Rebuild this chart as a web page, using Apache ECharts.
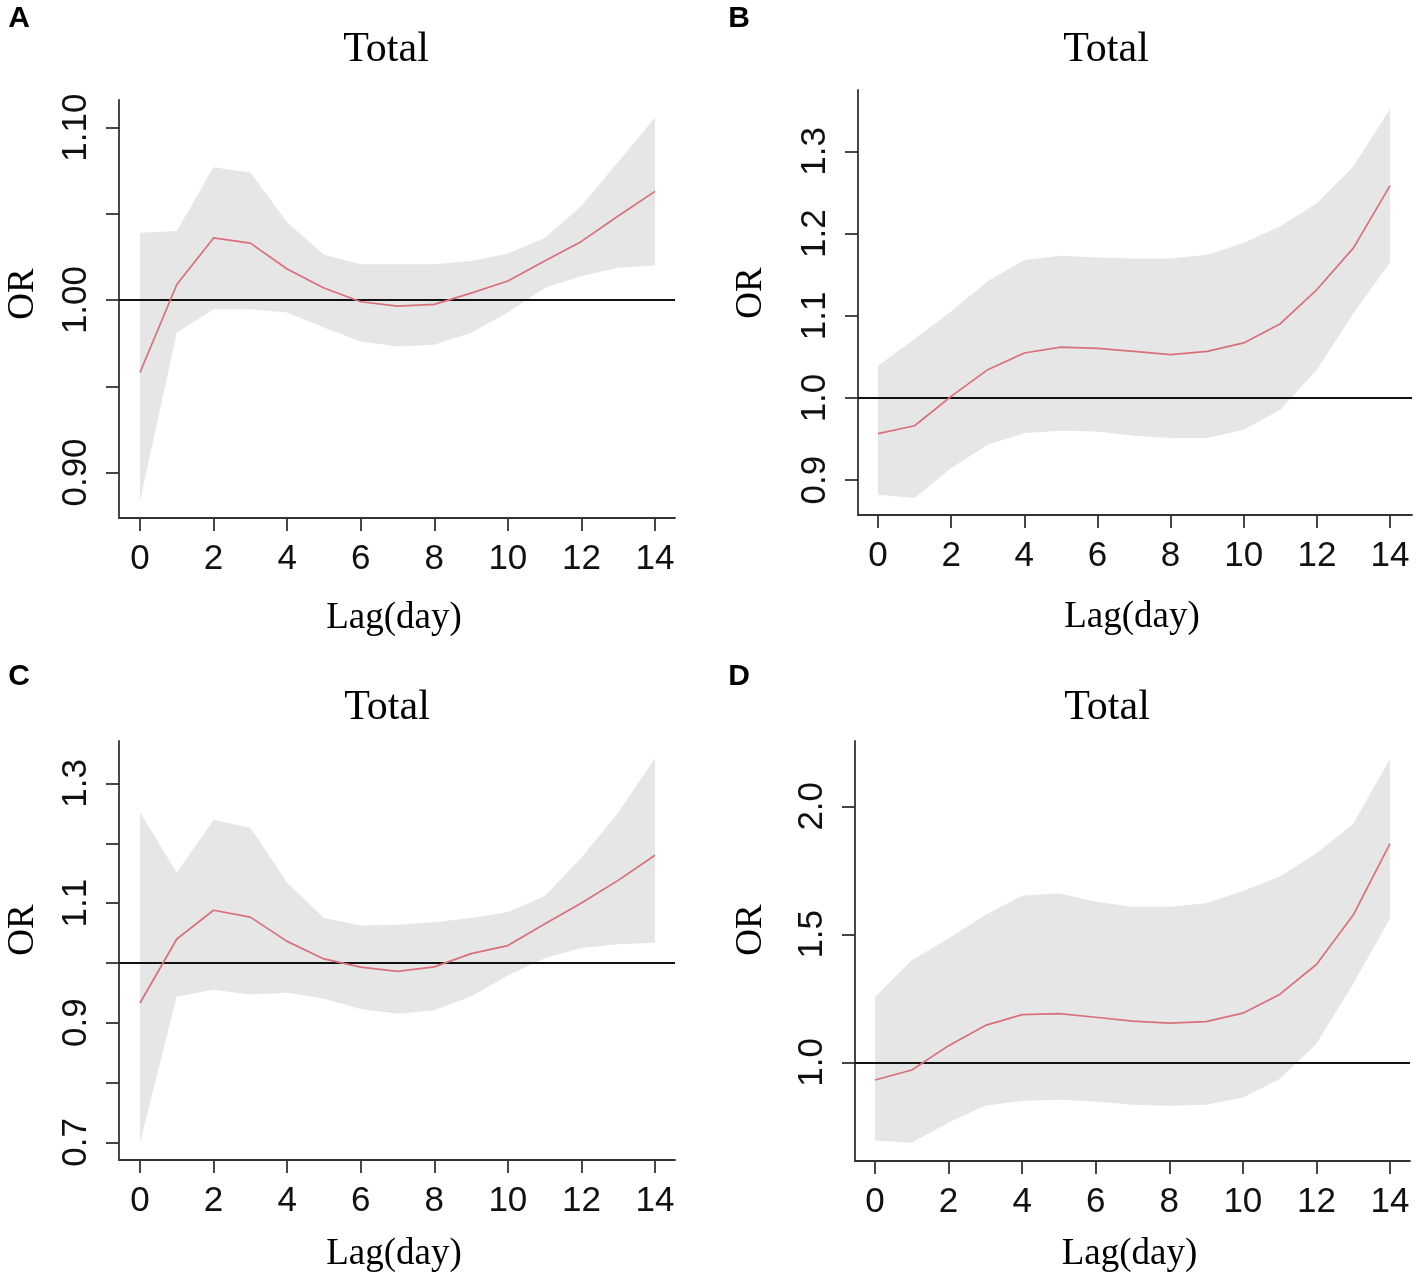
<!DOCTYPE html>
<html>
<head>
<meta charset="utf-8">
<script src="https://cdn.jsdelivr.net/npm/echarts@6/dist/echarts.min.js"></script>
<style>
html,body{margin:0;padding:0;background:#fff;}
#chart{width:1419px;height:1276px;}
</style>
</head>
<body>
<div id="chart"></div>
<script>
// ---- Data ----
var lags = [0,1,2,3,4,5,6,7,8,9,10,11,12,13,14];
var xTicks = [0,2,4,6,8,10,12,14];

// Panel A
var aOR = [0.958,1.009,1.036,1.033,1.018,1.007,0.999,0.9965,0.9975,1.004,1.011,1.0226,1.034,1.0487,1.063];
var aHigh = [1.039,1.040,1.077,1.074,1.045,1.0262,1.0207,1.0207,1.0207,1.0226,1.027,1.036,1.0545,1.080,1.1057];
var aLow = [0.8835,0.981,0.9946,0.9946,0.9927,0.984,0.976,0.973,0.974,0.981,0.9927,1.007,1.014,1.0187,1.020];
var aYTicks = [0.90,0.95,1.00,1.05,1.10];
var aYLabels = [0.90,1.00,1.10];

// Panel B
var bOR = [0.9566,0.9663,1.002,1.0345,1.0548,1.062,1.0604,1.0568,1.0527,1.0568,1.067,1.0905,1.132,1.1826,1.2584];
var bHigh = [1.0394,1.0718,1.1055,1.142,1.168,1.173,1.171,1.1696,1.1696,1.1744,1.1886,1.209,1.237,1.282,1.3517];
var bLow = [0.8824,0.8783,0.9148,0.9432,0.9574,0.9602,0.9594,0.9542,0.9513,0.9513,0.9615,0.9858,1.0345,1.1034,1.165];
var bYTicks = [0.9,1.0,1.1,1.2,1.3];
var bYLabels = [0.9,1.0,1.1,1.2,1.3];

// Panel C
var cOR = [0.933,1.040,1.088,1.0765,1.036,1.0067,0.993,0.986,0.9933,1.0156,1.029,1.065,1.100,1.138,1.180];
var cHigh = [1.252,1.1507,1.239,1.226,1.134,1.075,1.0625,1.064,1.068,1.075,1.085,1.1116,1.176,1.251,1.3416];
var cLow = [0.6997,0.944,0.955,0.947,0.950,0.940,0.923,0.915,0.921,0.944,0.979,1.008,1.025,1.031,1.0335];
var cYTicks = [0.7,0.8,0.9,1.0,1.1,1.2,1.3];
var cYLabels = [0.7,0.9,1.1,1.3];

// Panel D
var dOR = [0.931,0.970,1.065,1.144,1.186,1.190,1.176,1.161,1.153,1.159,1.192,1.265,1.382,1.575,1.854];
var dHigh = [1.255,1.399,1.484,1.575,1.651,1.660,1.627,1.608,1.608,1.621,1.669,1.725,1.817,1.931,2.186];
var dLow = [0.695,0.686,0.765,0.830,0.850,0.854,0.847,0.834,0.830,0.834,0.863,0.935,1.072,1.307,1.562];
var dYTicks = [1.0,1.5,2.0];
var dYLabels = [1.0,1.5,2.0];

var panelLetters = ['A','B','C','D'];
var panelTitle = 'Total';
var xName = 'Lag(day)';
var yName = 'OR';
var refValue = 1.0;

// ---- Layout (pixels) ----
var panels = [
  {or:aOR, hi:aHigh, lo:aLow, yt:aYTicks, yl:aYLabels, dec:2,
   grid:{left:119, top:100, width:556, height:418}, xr:[-0.571,14.544], yr:[0.8736,1.116],
   title:[381,48], orPos:[23,294], letter:[19,19], nameGap:82},
  {or:bOR, hi:bHigh, lo:bLow, yt:bYTicks, yl:bYLabels, dec:1,
   grid:{left:858, top:90, width:554, height:425}, xr:[-0.547,14.60], yr:[0.8577,1.3747],
   title:[1101,48], orPos:[751,293], letter:[739,19], nameGap:84},
  {or:cOR, hi:cHigh, lo:cLow, yt:cYTicks, yl:cYLabels, dec:1,
   grid:{left:119, top:741, width:556, height:419}, xr:[-0.571,14.544], yr:[0.6705,1.371],
   title:[382,706], orPos:[23,930], letter:[19,677], nameGap:76},
  {or:dOR, hi:dHigh, lo:dLow, yt:dYTicks, yl:dYLabels, dec:1,
   grid:{left:855, top:741, width:555, height:420}, xr:[-0.544,14.544], yr:[0.6145,2.255],
   title:[1102,706], orPos:[751,930], letter:[739,677], nameGap:75}
];

var axisColor = '#333333';
var tickFont = 'Liberation Sans';
var serif = 'Liberation Serif';

var grids = [], xAxes = [], yAxes = [], series = [], graphics = [], titles = [];

panels.forEach(function(p, i){
  grids.push(p.grid);
  xAxes.push({
    type:'value', gridIndex:i, min:p.xr[0], max:p.xr[1],
    name:xName, nameLocation:'middle', nameGap:p.nameGap,
    nameTextStyle:{fontFamily:serif, fontSize:37, color:'#000', padding:[0,6,0,0]},
    axisLine:{show:true, onZero:false, lineStyle:{color:axisColor, width:1.8}},
    axisTick:{show:true, length:13, customValues:xTicks, lineStyle:{color:axisColor, width:1.8}},
    axisLabel:{show:true, customValues:xTicks, margin:24, fontFamily:tickFont, fontSize:35, color:'#111'},
    splitLine:{show:false}
  });
  var dec = p.dec;
  yAxes.push({
    type:'value', gridIndex:i, min:p.yr[0], max:p.yr[1],
    axisLine:{show:true, onZero:false, lineStyle:{color:axisColor, width:1.8}},
    axisTick:{show:true, length:13, customValues:p.yt, lineStyle:{color:axisColor, width:1.8}},
    axisLabel:{show:true, customValues:p.yl, rotate:90, margin:25, fontFamily:tickFont, fontSize:35, color:'#111',
      formatter:function(v){ return Number(v).toFixed(dec); }},
    splitLine:{show:false}
  });
  var bandData = lags.map(function(l,k){ return [l, p.lo[k], p.hi[k]]; });
  var orData = lags.map(function(l,k){ return [l, p.or[k]]; });
  series.push({
    type:'custom', xAxisIndex:i, yAxisIndex:i, data:[0], silent:true, z:1,
    renderItem:function(params, api){
      var upper = bandData.map(function(d){ return api.coord([d[0], d[2]]); });
      var lower = bandData.map(function(d){ return api.coord([d[0], d[1]]); }).reverse();
      return {type:'polygon', shape:{points:upper.concat(lower)}, style:{fill:'#e6e6e6'}};
    }
  });
  series.push({
    type:'line', xAxisIndex:i, yAxisIndex:i, data:orData,
    symbol:'none', lineStyle:{color:'#d8707a', width:1.7}, z:3,
    markLine:{silent:true, symbol:['none','none'], label:{show:false},
      lineStyle:{color:'#111', width:2, type:'solid'}, data:[{yAxis:refValue}], z:2}
  });
  titles.push({text:panelTitle, left:p.title[0], top:p.title[1]-24, textAlign:'center',
    textStyle:{fontFamily:serif, fontSize:42, fontWeight:'normal', color:'#000'}});
  graphics.push({type:'text', x:p.orPos[0], y:p.orPos[1], rotation:Math.PI/2,
    style:{text:yName, font:'37px "Liberation Serif"', fill:'#000', textAlign:'center', textVerticalAlign:'middle'}});
  graphics.push({type:'text', x:p.letter[0], y:p.letter[1],
    style:{text:panelLetters[i], font:'bold 30px "Liberation Sans"', fill:'#000', textAlign:'center', textVerticalAlign:'middle'}});
});

var chart = echarts.init(document.getElementById('chart'));
chart.setOption({
  animation:false,
  backgroundColor:'#fff',
  title:titles,
  grid:grids,
  xAxis:xAxes,
  yAxis:yAxes,
  series:series,
  graphic:graphics
});
</script>
</body>
</html>
